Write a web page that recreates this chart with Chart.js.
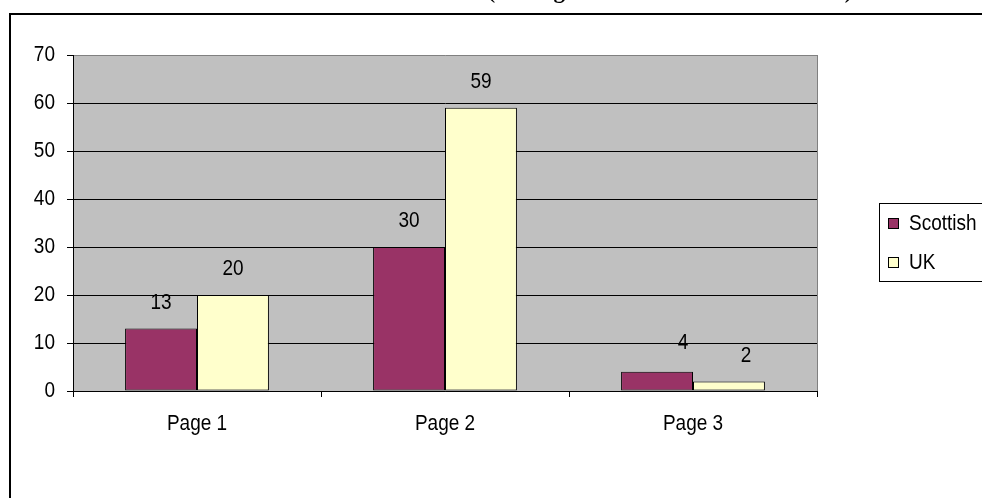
<!DOCTYPE html>
<html>
<head>
<meta charset="utf-8">
<script src="https://cdn.jsdelivr.net/npm/chart.js@4/dist/chart.umd.min.js"></script>
<style>
  html, body { margin: 0; padding: 0; background: #ffffff; overflow: hidden; }
  #wrap { position: relative; width: 982px; height: 498px; }
</style>
</head>
<body>
<div id="wrap"><canvas id="chart" width="982" height="498"></canvas></div>
<script>
// Pages and response counts per group
const categories = ['Page 1', 'Page 2', 'Page 3'];
const scottish = [13, 30, 4];
const uk = [20, 59, 2];
const yTicks = [0, 10, 20, 30, 40, 50, 60, 70];
const seriesNames = ['Scottish', 'UK'];
const seriesColors = ['#993366', '#FFFFCC'];
const headingText = '(Average number of hits on each site)';

const FONT = '"Liberation Sans", Arial, sans-serif';
const TEXT_SIZE = 19;
const TEXT_STRETCH = 1.18;   // labels are drawn slightly taller than wide

// Manual nudges [dx, dy] for value labels that were moved off-centre
const labelNudge = [
  [[0, 0], [0, 0], [26, -3]],
  [[0, 0], [0, 0], [17, 0]]
];

// Draw one label, vertically stretched, centred on y
function label(ctx, text, x, y, align) {
  ctx.save();
  ctx.translate(x, y);
  ctx.scale(1, TEXT_STRETCH);
  ctx.font = TEXT_SIZE + 'px ' + FONT;
  ctx.fillStyle = '#000000';
  ctx.textAlign = align;
  ctx.textBaseline = 'middle';
  ctx.fillText(text, 0, 0);
  ctx.restore();
}

// Grey plot area, outer frame, clipped heading, axis and value labels, legend
const decor = {
  id: 'decor',
  beforeDraw(chart) {
    const { ctx, chartArea: a } = chart;
    ctx.save();
    ctx.fillStyle = '#ffffff';
    ctx.fillRect(0, 0, chart.width, chart.height);
    ctx.fillStyle = '#C0C0C0';
    ctx.fillRect(a.left, a.top, a.right - a.left, a.bottom - a.top);
    ctx.restore();
  },
  afterDraw(chart) {
    const { ctx, chartArea: a, scales } = chart;
    ctx.save();
    // right edge of plot area
    ctx.strokeStyle = '#808080';
    ctx.lineWidth = 1;
    ctx.beginPath();
    ctx.moveTo(a.right + 0.5, a.top);
    ctx.lineTo(a.right + 0.5, a.bottom);
    ctx.stroke();

    // outer frame
    ctx.strokeStyle = '#000000';
    ctx.lineWidth = 2;
    ctx.beginPath();
    ctx.moveTo(10, chart.height + 2);
    ctx.lineTo(10, 14);
    ctx.lineTo(chart.width + 2, 14);
    ctx.stroke();

    // heading above the frame
    ctx.fillStyle = '#000000';
    ctx.font = 'bold 23px "Liberation Serif", "Times New Roman", serif';
    ctx.textAlign = 'center';
    ctx.textBaseline = 'alphabetic';
    ctx.fillText(headingText, 670, -2);
    ctx.restore();

    // axis labels
    yTicks.forEach(v => label(ctx, String(v), 55, scales.y.getPixelForValue(v), 'right'));
    categories.forEach((c, i) => label(ctx, c, scales.x.getPixelForValue(i), 423.5, 'center'));

    // value labels above bars
    chart.data.datasets.forEach((ds, i) => {
      const meta = chart.getDatasetMeta(i);
      meta.data.forEach((bar, j) => {
        const [dx, dy] = labelNudge[i][j];
        label(ctx, String(ds.data[j]), bar.x + dx, bar.y - 26 + dy, 'center');
      });
    });

    // legend
    ctx.save();
    const lx = 879, ly = 203, lh = 78;
    ctx.lineWidth = 1;
    ctx.strokeStyle = '#000000';
    ctx.strokeRect(lx + 0.5, ly + 0.5, 200, lh);
    seriesNames.forEach((name, i) => {
      const cy = ly + 20 + i * 39;
      ctx.fillStyle = seriesColors[i];
      ctx.fillRect(888, cy - 5, 11, 11);
      ctx.strokeRect(888.5, cy - 4.5, 10, 10);
      label(ctx, name, 909, cy + 1, 'left');
    });
    ctx.restore();
  }
};

new Chart(document.getElementById('chart'), {
  type: 'bar',
  data: {
    labels: categories,
    datasets: [
      { label: seriesNames[0], data: scottish, backgroundColor: seriesColors[0],
        borderColor: '#000000', borderWidth: 1, borderSkipped: false },
      { label: seriesNames[1], data: uk, backgroundColor: seriesColors[1],
        borderColor: '#000000', borderWidth: 1, borderSkipped: false }
    ]
  },
  options: {
    responsive: false,
    animation: false,
    events: [],
    layout: { padding: { top: 55, right: 165, bottom: 0, left: 0 } },
    datasets: { bar: { categoryPercentage: 0.58, barPercentage: 1.0 } },
    plugins: { legend: { display: false }, tooltip: { enabled: false }, title: { display: false } },
    scales: {
      x: {
        afterFit(scale) { scale.height = 107; },
        grid: { offset: true, drawOnChartArea: false, drawTicks: true, tickLength: 6,
                color: '#000000', tickColor: '#000000' },
        border: { color: '#000000', width: 1 },
        ticks: { color: 'rgba(0,0,0,0)', font: { family: FONT, size: TEXT_SIZE }, padding: 16 }
      },
      y: {
        min: 0, max: 70,
        afterFit(scale) { scale.width = 73; },
        afterBuildTicks(scale) { scale.ticks = yTicks.map(v => ({ value: v })); },
        grid: {
          color: ctx => (ctx.tick && ctx.tick.value === 70) ? '#808080' : '#000000',
          tickColor: '#000000', lineWidth: 1, tickLength: 6, drawTicks: true
        },
        border: { color: '#000000', width: 1 },
        ticks: { color: 'rgba(0,0,0,0)', font: { family: FONT, size: TEXT_SIZE }, padding: 12 }
      }
    }
  },
  plugins: [decor]
});
</script>
</body>
</html>
